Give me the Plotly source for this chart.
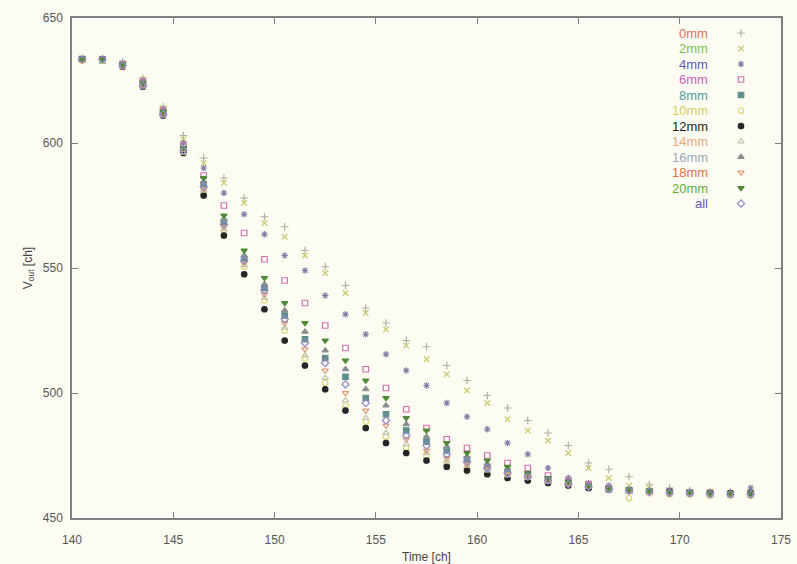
import plotly.graph_objects as go

time_ch = [140.5 + i for i in range(34)]

series_names = ["0mm", "2mm", "4mm", "6mm", "8mm", "10mm", "12mm", "14mm", "16mm", "18mm", "20mm", "all"]

v_0mm = [633.5, 633.5, 632.5, 626, 614.5, 603, 594, 586, 578, 570.5, 566.5, 557, 550.5, 543, 534, 528, 521, 518.5,
         511, 505, 499, 494, 489, 484, 479, 472, 469.5, 466.5, 463.5, 462, 461, 460.5, 460.5, 461]
v_2mm = [634, 633.5, 632, 625.5, 614, 601.5, 592, 584, 576, 568, 562.5, 555, 548, 540, 532, 525.5, 519, 513.5,
         507.5, 501, 496, 489.5, 485, 481, 476, 470, 466, 463, 462, 461, 460.5, 460.5, 460, 460]
v_4mm = [633.5, 633.5, 632, 625, 613.5, 600, 590, 580, 571.5, 563.5, 555, 549, 539, 531.5, 523.5, 515.5, 509, 503,
         496, 490.5, 485.5, 480, 475.5, 470, 466, 464, 463, 461.5, 461, 461, 460.5, 460, 460, 462]
v_6mm = [633.5, 633.5, 631.5, 624.5, 613, 599, 587, 575, 564, 553.5, 545, 536, 527, 518, 509.5, 502, 493.5, 486,
         481.5, 478, 475, 472, 470, 467, 465, 463.5, 462, 461, 460.5, 460.5, 460, 460, 459.5, 459.5]
v_8mm = [633.5, 633, 631, 623.5, 612, 597, 583.5, 568.5, 553.5, 542, 531, 521.5, 514, 506.5, 498, 491.5, 485, 480.5,
         477, 473.5, 470.5, 468.5, 467, 465.5, 464, 462.5, 461.5, 461, 460.5, 460, 460, 459.5, 459.5, 459.5]
v_10mm = [633, 633, 630.5, 622.5, 611, 596, 580, 565, 550.5, 537, 525, 514, 504, 495, 488.5, 482.5, 478, 474.5,
          471.5, 470, 468, 467, 466, 464.5, 463.5, 462.5, 461.5, 458, 460, 459.5, 459.5, 459, 459, 459]
v_12mm = [633.5, 633.5, 630.5, 622.5, 611, 596, 579, 563, 547.5, 533.5, 521, 511, 501.5, 493, 486, 480, 476, 473,
          470.5, 469, 467.5, 466, 465, 464, 463, 462, 461.5, 461, 460.5, 460.5, 460, 460, 460, 460]
v_14mm = [633.5, 633, 630.5, 622.5, 611, 596, 581, 565.5, 551, 538, 526, 515, 506, 497, 490, 484, 479.5, 476,
          473, 471, 469, 467, 466, 464.5, 463.5, 462.5, 461.5, 460.5, 460, 459.5, 459.5, 459.5, 459, 459]
v_16mm = [633.5, 633.5, 631.5, 623.5, 612, 597.5, 584.5, 569.5, 555, 543.5, 533, 524.5, 517, 509.5, 501.5, 495,
          487.5, 482.5, 478.5, 474.5, 471.5, 469.5, 467.5, 465.5, 464, 463, 462, 461, 460.5, 460.5, 460, 460, 459.5, 460]
v_18mm = [633, 633.5, 630.5, 623, 611.5, 596.5, 581.5, 566.5, 552, 539.5, 528, 517.5, 509, 500, 493, 487, 481.5,
          477, 474, 471.5, 469.5, 467.5, 466.5, 465, 463.5, 462.5, 461.5, 460.5, 460, 460, 459.5, 459.5, 459.5, 459]
v_20mm = [633.5, 633.5, 631.5, 624, 612.5, 598, 586, 571, 557, 546, 536, 528, 521, 513, 505, 498, 490, 485, 480,
          476, 473, 470.5, 468, 466, 464.5, 463, 462, 461.5, 461, 460.5, 460.5, 460, 460, 460]
v_all = [633.5, 633.5, 631, 623, 611.5, 597, 582.5, 567.5, 553, 541, 529.5, 520, 512, 503.5, 496, 489, 483, 479,
         475.5, 472.5, 470, 468, 466.5, 465, 463.5, 462.5, 461.5, 461, 460.5, 460, 460, 459.5, 459.5, 459.5]

series_values = [v_0mm, v_2mm, v_4mm, v_6mm, v_8mm, v_10mm, v_12mm, v_14mm, v_16mm, v_18mm, v_20mm, v_all]

text_colors = ["#e0705c", "#7cc050", "#5a5ab8", "#d45cc0", "#4f9c9c", "#d8cf5a", "#1c1c1c",
               "#e8a878", "#9aaab8", "#e07048", "#5cae3c", "#6a58c0"]
marker_colors = ["#b0b0a0", "#c8cc70", "#8080a8", "#d070b0", "#5f8f8c", "#e0d878", "#262626",
                 "#c0c4b0", "#8a8e90", "#e09870", "#4e8a36", "#9088c8"]
symbols = ["cross-thin-open", "x-thin-open", "asterisk-open", "square-open", "square", "circle-open",
           "circle", "triangle-up-open", "triangle-up", "triangle-down-open", "triangle-down", "diamond-open"]

bg = "#fcfcf3"
axis_col = "#808080"
font_family = "Liberation Sans, Arial, sans-serif"

fig = go.Figure()

for name, vals, mc, sym in zip(series_names, series_values, marker_colors, symbols):
    fig.add_trace(go.Scatter(
        x=time_ch, y=vals, mode="markers", name=name, showlegend=False,
        marker=dict(symbol=sym, size=5.5, color=mc, line=dict(color=mc, width=1.2)),
        xaxis="x", yaxis="y"))

# manual gnuplot-style key (text left, symbol right), placed on a pixel-scaled overlay axis
key_x_marker = 741
key_y0 = 33
key_dy = 15.5
for i, (name, tc, mc, sym) in enumerate(zip(series_names, text_colors, marker_colors, symbols)):
    yk = key_y0 + key_dy * i
    fig.add_trace(go.Scatter(
        x=[key_x_marker], y=[yk], mode="markers", showlegend=False, hoverinfo="skip",
        marker=dict(symbol=sym, size=5.5, color=mc, line=dict(color=mc, width=1.2)),
        xaxis="x2", yaxis="y2"))
    fig.add_annotation(x=710, y=yk, xref="x2", yref="y2", text=name, showarrow=False,
                       xanchor="right", yanchor="middle",
                       font=dict(family=font_family, size=13, color=tc))

L, R, T, B = 72, 16, 18, 46
fig.update_layout(
    width=797, height=564,
    margin=dict(l=L, r=R, t=T, b=B),
    paper_bgcolor=bg, plot_bgcolor=bg,
    font=dict(family=font_family, size=12, color="#555555"),
    xaxis=dict(range=[140, 175], dtick=5, tick0=140, showgrid=False, zeroline=False,
               showline=True, mirror="ticks", linecolor=axis_col, linewidth=1.5,
               ticks="inside", ticklen=6, tickcolor=axis_col, tickwidth=1,
               ticklabelstandoff=10, automargin=False,
               tickfont=dict(size=12, color="#555555"),
               title=dict(text="Time [ch]", font=dict(size=12, color="#444444"), standoff=8)),
    yaxis=dict(range=[450, 650], dtick=50, showgrid=False, zeroline=False,
               showline=True, mirror="ticks", linecolor=axis_col, linewidth=1.5,
               ticks="inside", ticklen=6, tickcolor=axis_col, tickwidth=1,
               ticklabelstandoff=5, automargin=False,
               tickfont=dict(size=12, color="#555555"),
               title=dict(text="V<sub>out</sub> [ch]", font=dict(size=12, color="#444444"), standoff=8)),
    xaxis2=dict(range=[L, 797 - R], overlaying="x", visible=False, fixedrange=True),
    yaxis2=dict(range=[564 - B, T], overlaying="y", visible=False, fixedrange=True),
)

fig.write_html("out.html")
